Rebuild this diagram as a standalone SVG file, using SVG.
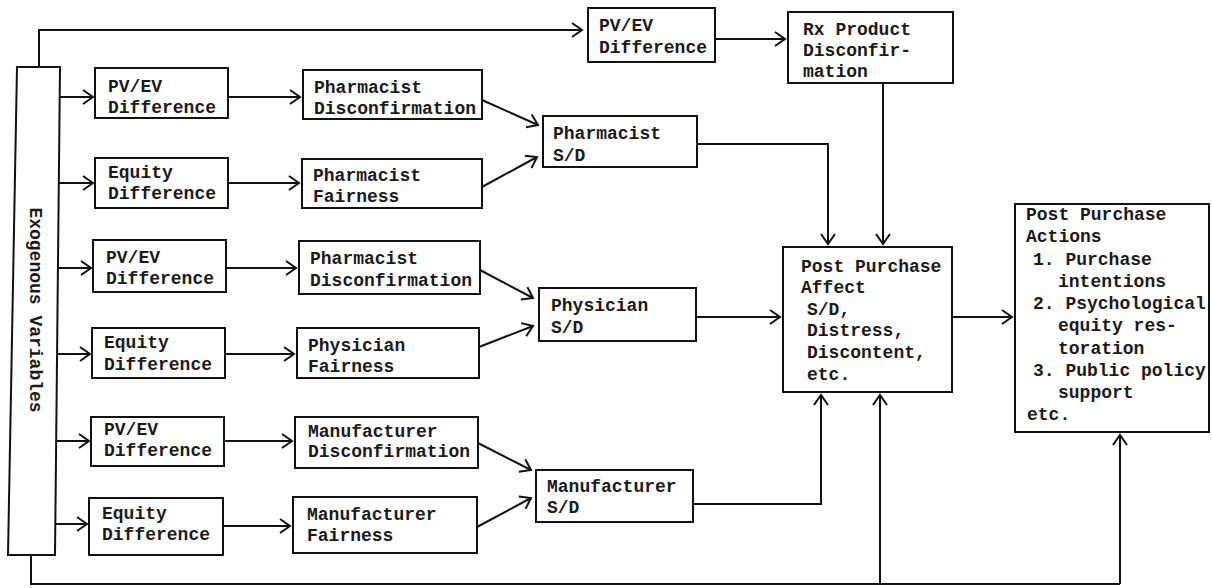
<svg xmlns="http://www.w3.org/2000/svg" width="1212" height="588" viewBox="0 0 1212 588">
<style>
.box{fill:#fff;stroke:#111;stroke-width:2}
.t{font-family:"Liberation Mono","DejaVu Sans Mono",monospace;font-size:18px;font-weight:bold;fill:#1a1a1a}
.c{fill:none;stroke:#111;stroke-width:2}
.a{marker-end:url(#ah)}
</style>
<defs>
<marker id="ah" markerUnits="userSpaceOnUse" markerWidth="14" markerHeight="16" refX="11" refY="7" orient="auto" overflow="visible">
<path d="M1,0 L11,7 L1,14" fill="none" stroke="#111" stroke-width="2"/>
</marker>
</defs>
<rect width="1212" height="588" fill="#fff"/>
<g id="connectors">
<path class="c a" d="M39,67 V30 H582"/>
<path class="c a" d="M715,39 H785"/>
<path class="c a" d="M60,97 H93"/>
<path class="c a" d="M59,183 H93"/>
<path class="c a" d="M58,268 H91"/>
<path class="c a" d="M57,354 H90"/>
<path class="c a" d="M56,441 H89"/>
<path class="c a" d="M55,524 H87"/>
<path class="c a" d="M228,97 H300"/>
<path class="c a" d="M228,183 H299"/>
<path class="c a" d="M226,268 H296"/>
<path class="c a" d="M225,354 H294"/>
<path class="c a" d="M224,441 H292"/>
<path class="c a" d="M223,526 H290"/>
<path class="c a" d="M482,100 L538,125"/>
<path class="c a" d="M482,187 L537,157"/>
<path class="c a" d="M480,270 L533,298"/>
<path class="c a" d="M479,347 L533,326"/>
<path class="c a" d="M478,443 L531,470"/>
<path class="c a" d="M477,527 L531,498"/>
<path class="c a" d="M697,144 H828 V244"/>
<path class="c a" d="M883,83 V244"/>
<path class="c a" d="M696,317 H780"/>
<path class="c a" d="M693,504 H821 V395"/>
<path class="c" d="M31,555 V584 H1120"/>
<path class="c a" d="M880,584 V395"/>
<path class="c a" d="M1120,584 V435"/>
<path class="c a" d="M952,317 H1012"/>
</g>
<g id="exogenous">
<polygon class="box" points="17,67 60,67 55,555 8,555"/>
<text class="t" transform="translate(30,310) rotate(90)" text-anchor="middle" font-size="17.5">Exogenous Variables</text>
</g>
<g id="pv1"><rect class="box" x="95" y="68" width="133" height="50"/><text class="t" x="108" y="92">PV/EV</text><text class="t" x="108" y="113">Difference</text></g>
<g id="eq2"><rect class="box" x="95" y="158" width="133" height="50"/><text class="t" x="108" y="178">Equity</text><text class="t" x="108" y="199">Difference</text></g>
<g id="pd1"><rect class="box" x="303" y="70" width="179" height="49"/><text class="t" x="314" y="93">Pharmacist</text><text class="t" x="314" y="114">Disconfirmation</text></g>
<g id="pf2"><rect class="box" x="302" y="159" width="180" height="49"/><text class="t" x="313" y="181">Pharmacist</text><text class="t" x="313" y="202">Fairness</text></g>
<g id="psd"><rect class="box" x="543" y="116" width="154" height="51"/><text class="t" x="553" y="139">Pharmacist</text><text class="t" x="553" y="161">S/D</text></g>
<g id="pv3"><rect class="box" x="93" y="240" width="133" height="52"/><text class="t" x="106" y="263">PV/EV</text><text class="t" x="106" y="284">Difference</text></g>
<g id="pd3"><rect class="box" x="299" y="241" width="181" height="53"/><text class="t" x="310" y="264">Pharmacist</text><text class="t" x="310" y="286">Disconfirmation</text></g>
<g id="eq4"><rect class="box" x="92" y="328" width="133" height="50"/><text class="t" x="104" y="348">Equity</text><text class="t" x="104" y="370">Difference</text></g>
<g id="phf"><rect class="box" x="297" y="328" width="182" height="50"/><text class="t" x="308" y="351">Physician</text><text class="t" x="308" y="372">Fairness</text></g>
<g id="phsd"><rect class="box" x="539" y="288" width="157" height="53"/><text class="t" x="551" y="311">Physician</text><text class="t" x="551" y="333">S/D</text></g>
<g id="pv5"><rect class="box" x="91" y="417" width="133" height="49"/><text class="t" x="104" y="435">PV/EV</text><text class="t" x="104" y="456">Difference</text></g>
<g id="eq6"><rect class="box" x="89" y="498" width="134" height="57"/><text class="t" x="102" y="519">Equity</text><text class="t" x="102" y="540">Difference</text></g>
<g id="md"><rect class="box" x="295" y="417" width="183" height="51"/><text class="t" x="308" y="437">Manufacturer</text><text class="t" x="308" y="457">Disconfirmation</text></g>
<g id="mf"><rect class="box" x="293" y="497" width="184" height="56"/><text class="t" x="307" y="520">Manufacturer</text><text class="t" x="307" y="541">Fairness</text></g>
<g id="msd"><rect class="box" x="536" y="470" width="157" height="52"/><text class="t" x="547" y="492">Manufacturer</text><text class="t" x="547" y="513">S/D</text></g>
<g id="pvtop"><rect class="box" x="588" y="8" width="127" height="54"/><text class="t" x="599" y="31">PV/EV</text><text class="t" x="599" y="53">Difference</text></g>
<g id="rx"><rect class="box" x="788" y="12" width="165" height="71"/><text class="t" x="803" y="35">Rx Product</text><text class="t" x="803" y="56">Disconfir-</text><text class="t" x="803" y="77">mation</text></g>
<g id="affect"><rect class="box" x="783" y="247" width="169" height="145"/>
<text class="t" x="801" y="272">Post Purchase</text><text class="t" x="801" y="293">Affect</text>
<text class="t" x="807" y="315">S/D,</text><text class="t" x="807" y="336">Distress,</text><text class="t" x="807" y="358">Discontent,</text><text class="t" x="807" y="380">etc.</text></g>
<g id="actions"><rect class="box" x="1015" y="204" width="194" height="228"/>
<text class="t" x="1026" y="220">Post Purchase</text><text class="t" x="1026" y="242">Actions</text>
<text class="t" x="1033" y="265">1. Purchase</text><text class="t" x="1058" y="287">intentions</text>
<text class="t" x="1033" y="309">2. Psychological</text><text class="t" x="1058" y="331">equity res-</text>
<text class="t" x="1058" y="354">toration</text><text class="t" x="1033" y="376">3. Public policy</text>
<text class="t" x="1058" y="398">support</text><text class="t" x="1027" y="420">etc.</text></g>
</svg>
